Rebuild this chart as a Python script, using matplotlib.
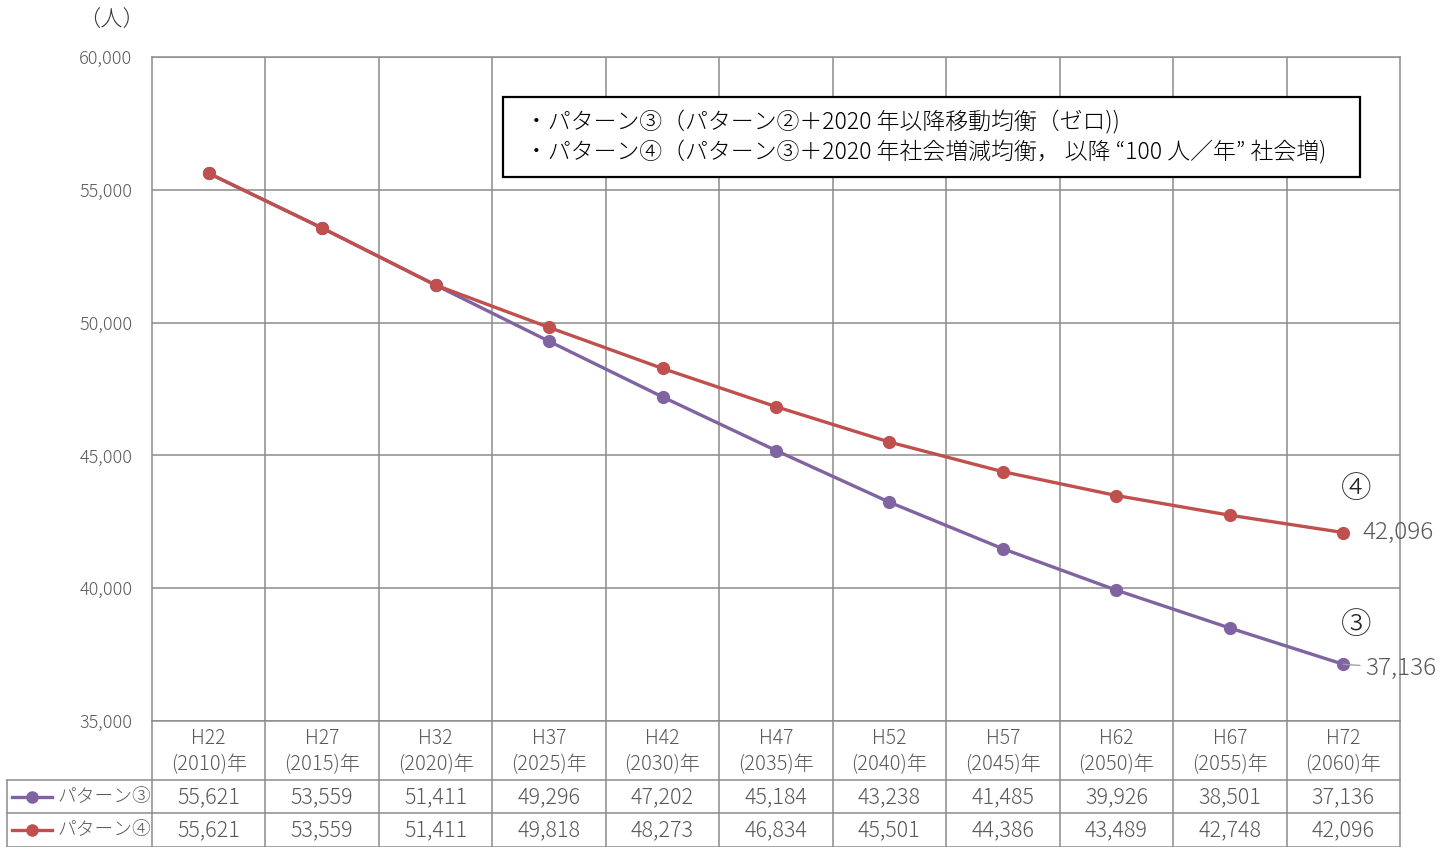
import matplotlib
matplotlib.use("Agg")
import matplotlib.pyplot as plt
from matplotlib.patches import Rectangle

plt.rcParams["font.family"] = ["Noto Sans CJK JP", "DejaVu Sans"]
plt.rcParams["font.weight"] = "light"

# data
wareki = ["H22", "H27", "H32", "H37", "H42", "H47", "H52", "H57", "H62", "H67", "H72"]
years = [2010, 2015, 2020, 2025, 2030, 2035, 2040, 2045, 2050, 2055, 2060]
pattern3 = [55621, 53559, 51411, 49296, 47202, 45184, 43238, 41485, 39926, 38501, 37136]
pattern4 = [55621, 53559, 51411, 49818, 48273, 46834, 45501, 44386, 43489, 42748, 42096]
series_names = ["パターン③", "パターン④"]
yticks = [35000, 40000, 45000, 50000, 55000, 60000]
note_lines = [
    "・パターン③（パターン②＋2020 年以降移動均衡（ゼロ))",
    "・パターン④（パターン③＋2020 年社会増減均衡， 以降 “100 人／年” 社会増)",
]

W, H = 1455, 847
purple = "#8064A2"
red = "#C0504D"
grid_c = "#8C8C8C"
text_c = "#595959"

fig = plt.figure(figsize=(W / 100, H / 100), dpi=100)
ax = fig.add_axes([152 / W, 1 - 721 / H, 1248 / W, 664 / H])

x = list(range(len(years)))
ax.plot(x, pattern3, color=purple, lw=2.4, marker="o", ms=8.5, zorder=3)
ax.plot(x, pattern4, color=red, lw=2.4, marker="o", ms=8.5, zorder=4)

ax.set_xlim(-0.5, len(years) - 0.5)
ax.set_ylim(35000, 60000)
ax.set_yticks(yticks)
ax.set_yticklabels([f"{v:,}" for v in yticks], color=text_c, fontsize=13)
ax.tick_params(axis="y", length=0, pad=14)
ax.set_xticks([i - 0.5 for i in range(1, len(years))])
ax.set_xticklabels([])
ax.tick_params(axis="x", length=0)
ax.grid(True, color=grid_c, lw=1.1)
for s in ax.spines.values():
    s.set_color(grid_c)
    s.set_linewidth(1.1)

fig.text(78 / W, 1 - 21 / H, "（人）", fontsize=16, color="#333333", va="center")

# end labels
ax.annotate(f"{pattern4[-1]:,}", (x[-1], pattern4[-1]), xytext=(14, 0),
            textcoords="offset points", va="center", fontsize=17.5, color=text_c)
ax.annotate(f"{pattern3[-1]:,}", (x[-1], pattern3[-1]), xytext=(16, -3),
            textcoords="offset points", va="center", fontsize=17.5, color=text_c,
            arrowprops=dict(arrowstyle="-", color="#A0A0A0", lw=1,
                            shrinkA=2, shrinkB=0))
ax.annotate("④", (x[-1], pattern4[-1]), xytext=(9, 31), textcoords="offset points",
            ha="center", va="center", fontsize=22, color="#222222")
ax.annotate("③", (x[-1], pattern3[-1]), xytext=(9, 28), textcoords="offset points",
            ha="center", va="center", fontsize=22, color="#222222")

# note box
fig.add_artist(Rectangle((503 / W, 1 - 177 / H), 857 / W, 80 / H,
                         transform=fig.transFigure, fill=True, fc="white",
                         ec="black", lw=1.6, zorder=5))
for i, line in enumerate(note_lines):
    fig.text(525 / W, 1 - (123 + 30 * i) / H, line, fontsize=16.5, color="black",
             va="center", zorder=6)

# data table
unit = 1248 / len(years)
left = -0.5 - 145 / unit
tab = fig.add_axes([7 / W, 0, 1393 / W, 126 / H])
tab.set_xlim(left, len(years) - 0.5)
tab.set_ylim(126, 0)
tab.axis("off")

for yy in (59, 92, 126):
    tab.plot([left, len(years) - 0.5], [yy, yy], color=grid_c, lw=1.1, clip_on=False)
for i in range(len(years) + 1):
    tab.plot([i - 0.5, i - 0.5], [0, 126], color=grid_c, lw=1.1, clip_on=False)
tab.plot([left, left], [59, 126], color=grid_c, lw=1.1, clip_on=False)

for i, (w, y) in enumerate(zip(wareki, years)):
    tab.text(i, 17, w, ha="center", va="center", fontsize=14, color=text_c)
    tab.text(i, 44, f"({y})年", ha="center", va="center", fontsize=14.5, color=text_c)
    tab.text(i, 76, f"{pattern3[i]:,}", ha="center", va="center", fontsize=15.5, color=text_c)
    tab.text(i, 109, f"{pattern4[i]:,}", ha="center", va="center", fontsize=15.5, color=text_c)

key_x0 = left + 5 / unit
key_x1 = left + 45 / unit
for yy, c, name in ((76, purple, series_names[0]), (109, red, series_names[1])):
    tab.plot([key_x0, key_x1], [yy, yy], color=c, lw=2.4, clip_on=False)
    tab.plot([(key_x0 + key_x1) / 2], [yy], "o", color=c, ms=8, clip_on=False)
    tab.text(left + 50 / unit, yy, name, va="center", fontsize=13.5, color=text_c)

fig.savefig("out.png", dpi=100)
